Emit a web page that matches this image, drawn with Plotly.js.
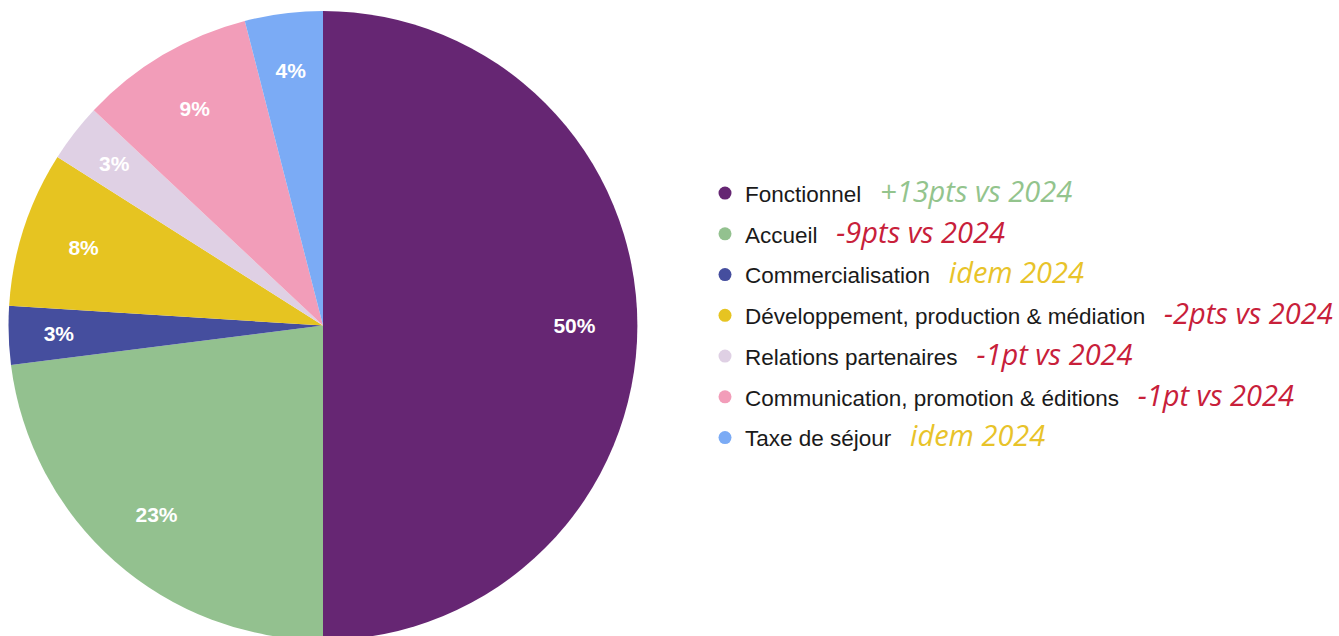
<!DOCTYPE html>
<html>
<head>
<meta charset="utf-8">
<script src="https://cdn.plot.ly/plotly-3.0.1.min.js"></script>
<style>
html,body{margin:0;padding:0;background:#fff;overflow:hidden;}
#chart{width:1339px;height:652px;}
</style>
</head>
<body>
<div id="chart"></div>
<script>
var categories = ["Fonctionnel", "Accueil", "Commercialisation", "Développement, production & médiation", "Relations partenaires", "Communication, promotion & éditions", "Taxe de séjour"];
var values = [50, 23, 3, 8, 3, 9, 4];
var colors = ["#662673", "#93C18F", "#454E9E", "#E6C421", "#DFD0E4", "#F29DB9", "#7BABF5"];
var evolutions = ["+13pts vs 2024", "-9pts vs 2024", "idem 2024", "-2pts vs 2024", "-1pt vs 2024", "-1pt vs 2024", "idem 2024"];
var evoColors = ["#93C48D", "#C8203A", "#E8C32A", "#C8203A", "#C8203A", "#C8203A", "#E8C32A"];

// pie slices (no text)
var traces = [{
  type: 'pie',
  values: values,
  labels: categories,
  sort: false,
  direction: 'clockwise',
  rotation: 0,
  marker: {colors: colors, line: {width: 0}},
  textinfo: 'none',
  domain: {x: [0.00635, 0.4761], y: [0, 1]},
  showlegend: false,
  hoverinfo: 'label+percent'
},
// transparent ring overlay carrying the percentage labels near the rim
{
  type: 'pie',
  values: values,
  labels: categories,
  sort: false,
  direction: 'clockwise',
  rotation: 0,
  hole: 0.741,
  marker: {colors: values.map(function(){return 'rgba(0,0,0,0)';}), line: {width: 0}},
  texttemplate: '%{percent:.0%}',
  textposition: 'inside',
  insidetextorientation: 'horizontal',
  textfont: {family: 'Liberation Sans, Arial, sans-serif', size: 21, color: '#ffffff', weight: 'bold'},
  domain: {x: [0.02539, 0.45706], y: [0.0405, 0.9595]},
  showlegend: false,
  hoverinfo: 'skip'
}];

categories.forEach(function(c, i) {
  traces.push({
    type: 'scatter',
    mode: 'markers',
    x: [null], y: [null],
    name: c + '&nbsp;&nbsp;&nbsp;<span style="font-family:\'Open Sans\';font-style:italic;font-size:29px;fill:' + evoColors[i] + ';color:' + evoColors[i] + '">' + evolutions[i] + '</span>',
    legendgroup: 'g' + i,
    marker: {color: colors[i], size: 13, symbol: 'circle'},
    showlegend: true,
    hoverinfo: 'skip'
  });
});

var layout = {
  width: 1339,
  height: 652,
  margin: {l: 0, r: 0, t: 11, b: 12},
  paper_bgcolor: '#ffffff',
  plot_bgcolor: '#ffffff',
  showlegend: true,
  xaxis: {visible: false, domain: [0.6, 0.61]},
  yaxis: {visible: false},
  legend: {
    x: 705 / 1339, xanchor: 'left',
    y: 0.516, yanchor: 'middle',
    font: {family: 'Liberation Sans, Arial, sans-serif', size: 22.5, color: '#1a1a1a'},
    tracegroupgap: 8.5,
    bgcolor: 'rgba(0,0,0,0)'
  }
};

Plotly.newPlot('chart', traces, layout, {displayModeBar: false, staticPlot: true});
</script>
</body>
</html>
